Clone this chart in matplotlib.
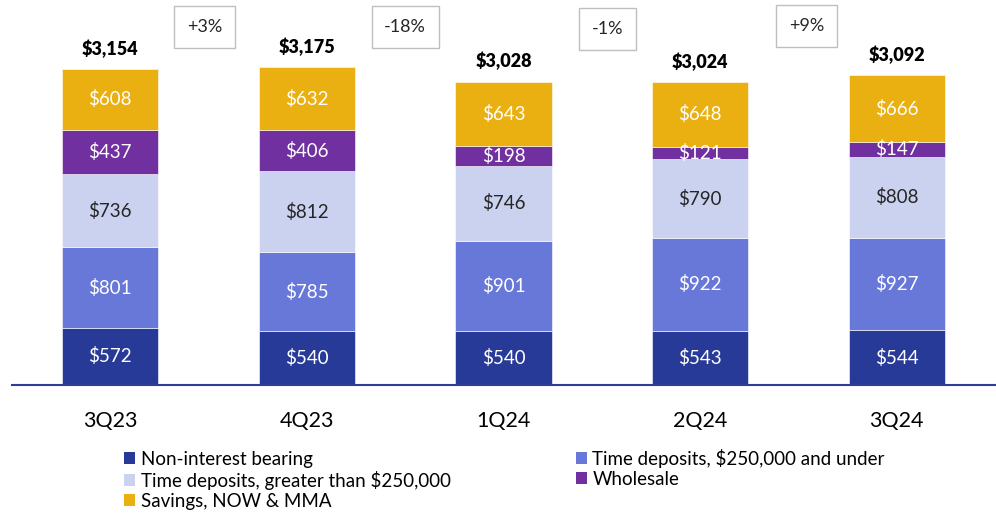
import matplotlib
matplotlib.use("Agg")
import matplotlib.pyplot as plt
from matplotlib.patches import Patch
import numpy as np

plt.rcParams['font.family'] = ['Lato', 'DejaVu Sans']

categories = ["3Q23", "4Q23", "1Q24", "2Q24", "3Q24"]
non_interest = [572, 540, 540, 543, 544]
td_under = [801, 785, 901, 922, 927]
td_over = [736, 812, 746, 790, 808]
wholesale = [437, 406, 198, 121, 147]
savings = [608, 632, 643, 648, 666]
totals = [3154, 3175, 3028, 3024, 3092]
changes = ["+3%", "-18%", "-1%", "+9%"]

series = [
    ("Non-interest bearing", non_interest, "#283A97", "white"),
    ("Time deposits, $250,000 and under", td_under, "#6878D8", "white"),
    ("Time deposits, greater than $250,000", td_over, "#CBD2F0", "#262626"),
    ("Wholesale", wholesale, "#7030A0", "white"),
    ("Savings, NOW & MMA", savings, "#EAAF10", "white"),
]

W, H = 996, 515
fig = plt.figure(figsize=(W / 100, H / 100), dpi=100)
ax_left, ax_right = 12 / W, 995 / W
ax_bottom = (H - 385) / H
ax_top = 1.0
ax = fig.add_axes([ax_left, ax_bottom, ax_right - ax_left, ax_top - ax_bottom])

x = np.arange(len(categories))
bottom = np.zeros(len(categories))
handles = {}
for name, vals, color, tcolor in series:
    vals = np.array(vals, dtype=float)
    ax.bar(x, vals, 0.49, bottom=bottom, color=color, edgecolor="white", linewidth=0.4)
    for xi, b, v in zip(x, bottom, vals):
        ax.text(xi, b + v / 2, f"${int(v):,}", ha="center", va="center", color=tcolor, fontsize=13.5)
    handles[name] = Patch(facecolor=color, edgecolor="none")
    bottom += vals

for xi, t in zip(x, totals):
    ax.text(xi, t + 110, f"${t:,}", ha="center", va="bottom", fontsize=13, fontweight="heavy", color="black")

ax.set_xlim(-0.5, 4.5)
ax.set_ylim(0, 385 / 0.1002)

box_y = [27, 27, 29, 26]
box_dx = [-0.02, 0.0, 0.03, 0.04]
for i, (c, by) in enumerate(zip(changes, box_y)):
    yv = (385 - by) / 0.1002
    ax.text(i + 0.5 + box_dx[i], yv, c, ha="center", va="center", fontsize=13, color="#262626",
            bbox=dict(boxstyle="square,pad=0.7", facecolor="white", edgecolor="#BFBFBF", linewidth=1))

for s in ["top", "right", "left"]:
    ax.spines[s].set_visible(False)
ax.spines["bottom"].set_color("#2F3D9A")
ax.spines["bottom"].set_linewidth(1.5)
ax.set_yticks([])
ax.set_xticks(x)
ax.set_xticklabels(categories, fontsize=15.5)
ax.tick_params(axis="x", length=0, pad=19)

order = ["Non-interest bearing", "Time deposits, greater than $250,000", "Savings, NOW & MMA",
         "Time deposits, $250,000 and under", "Wholesale"]
fig.legend([handles[n] for n in order], order, ncol=2, loc="upper left",
           bbox_to_anchor=(124 / W, 1 - 449 / H), frameon=False, fontsize=13.5,
           handlelength=0.6, handleheight=0.6, handletextpad=0.3, labelspacing=0.15,
           columnspacing=6.65, borderaxespad=0, borderpad=0)

fig.savefig("out.png", dpi=100)
